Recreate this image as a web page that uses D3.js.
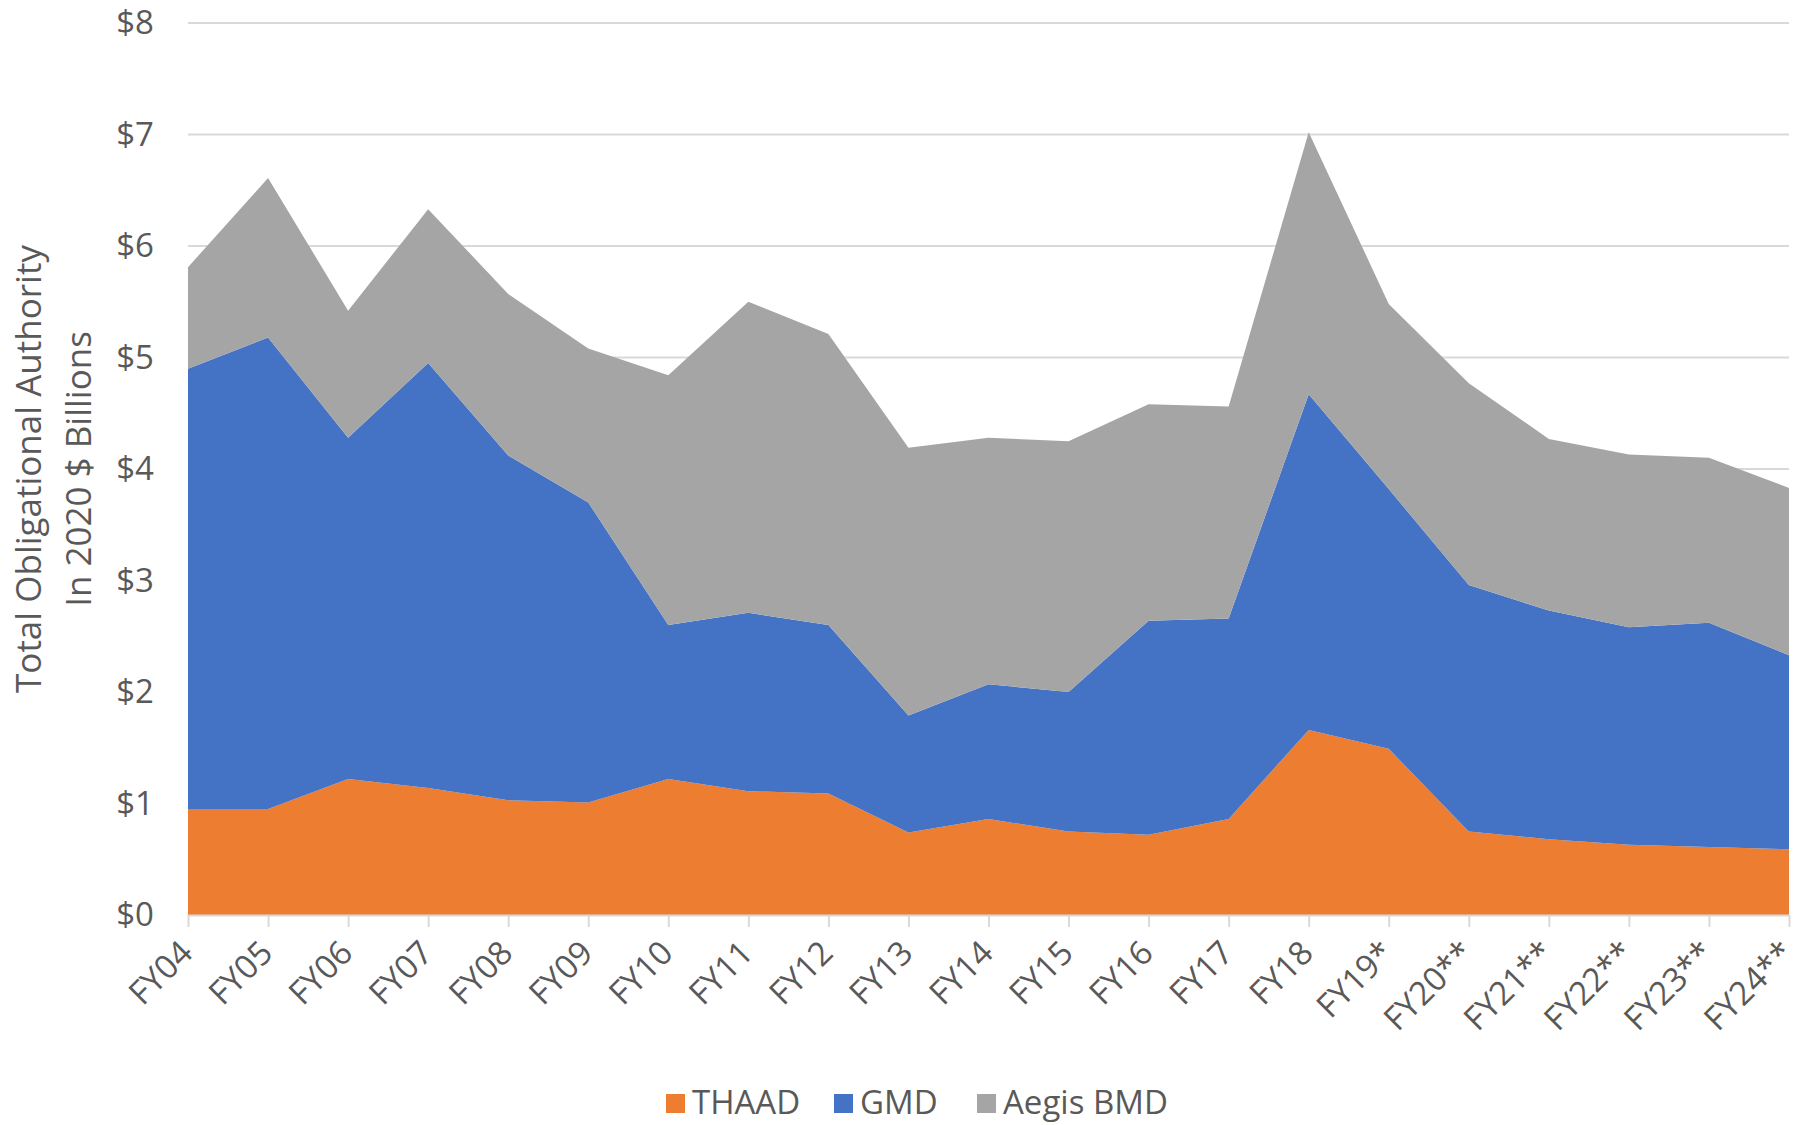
<!DOCTYPE html>
<html>
<head>
<meta charset="utf-8">
<script src="https://cdn.jsdelivr.net/npm/d3@7"></script>
<style>
  body { margin: 0; background: #fff; }
  svg text { font-family: "Open Sans", "Noto Sans", sans-serif; fill: #595959; }
</style>
</head>
<body>
<div id="chart"></div>
<script>
// fiscal years on the x axis
const years = ['FY04', 'FY05', 'FY06', 'FY07', 'FY08', 'FY09', 'FY10', 'FY11', 'FY12', 'FY13',
  'FY14', 'FY15', 'FY16', 'FY17', 'FY18', 'FY19*', 'FY20**', 'FY21**', 'FY22**', 'FY23**', 'FY24**'];

// values in 2020 $ billions
const thaad = [0.95, 0.95, 1.22, 1.14, 1.03, 1.01, 1.22, 1.11, 1.09, 0.74, 0.86,
  0.75, 0.72, 0.86, 1.66, 1.49, 0.75, 0.68, 0.63, 0.61, 0.59];
const gmd = [3.95, 4.23, 3.06, 3.81, 3.09, 2.69, 1.38, 1.60, 1.51, 1.05, 1.21,
  1.25, 1.92, 1.80, 3.01, 2.33, 2.21, 2.05, 1.95, 2.01, 1.74];
const aegis = [0.91, 1.43, 1.14, 1.38, 1.45, 1.38, 2.24, 2.79, 2.61, 2.40, 2.21,
  2.25, 1.94, 1.90, 2.35, 1.66, 1.81, 1.54, 1.55, 1.48, 1.50];

const seriesNames = ['THAAD', 'GMD', 'Aegis BMD'];
const seriesColors = ['#ed7d31', '#4472c4', '#a5a5a5'];
const yTicks = [0, 1, 2, 3, 4, 5, 6, 7, 8];

const width = 1806;
const height = 1125;
const margin = { top: 23, right: 17, bottom: 210, left: 188 };
const fontSize = 33;

const svg = d3.select('#chart')
  .append('svg')
  .attr('width', width)
  .attr('height', height);

// build rows for the stack
const rows = years.map((y, i) => ({ year: y, 'THAAD': thaad[i], 'GMD': gmd[i], 'Aegis BMD': aegis[i] }));
const stacked = d3.stack().keys(seriesNames)(rows);

const x = d3.scalePoint()
  .domain(years)
  .range([margin.left, width - margin.right]);

const y = d3.scaleLinear()
  .domain([0, 8])
  .range([height - margin.bottom, margin.top]);

// gridlines
svg.append('g')
  .selectAll('line')
  .data(yTicks.filter(d => d > 0))
  .join('line')
    .attr('x1', margin.left)
    .attr('x2', width - margin.right)
    .attr('y1', d => y(d))
    .attr('y2', d => y(d))
    .attr('stroke', '#d9d9d9')
    .attr('stroke-width', 2);

// areas
const area = d3.area()
  .x(d => x(d.data.year))
  .y0(d => y(d[0]))
  .y1(d => y(d[1]));

svg.append('g')
  .selectAll('path')
  .data(stacked)
  .join('path')
    .attr('d', area)
    .attr('fill', (d, i) => seriesColors[i]);

// x axis
const xAxis = svg.append('g')
  .attr('transform', `translate(0,${y(0)})`)
  .call(d3.axisBottom(x).tickSize(12).tickSizeOuter(0).tickPadding(0));
xAxis.select('.domain').attr('stroke', '#d9d9d9').attr('stroke-width', 2);
xAxis.selectAll('.tick line').attr('stroke', '#d9d9d9').attr('stroke-width', 2);
xAxis.selectAll('.tick text')
  .attr('font-size', fontSize)
  .attr('text-anchor', 'end')
  .attr('dy', null)
  .attr('y', null)
  .attr('transform', 'translate(6,40) rotate(-45)');

// y axis
const yAxis = svg.append('g')
  .attr('transform', `translate(${margin.left},0)`)
  .call(d3.axisLeft(y).tickValues(yTicks).tickFormat(d => '$' + d).tickSize(0).tickPadding(34));
yAxis.select('.domain').remove();
yAxis.selectAll('.tick text').attr('font-size', fontSize);

// y axis title
const yTitle = svg.append('text')
  .attr('transform', `translate(41,469) rotate(-90)`)
  .attr('text-anchor', 'middle')
  .attr('font-size', 35);
yTitle.append('tspan').attr('x', 0).attr('dy', 0).text('Total Obligational Authority');
yTitle.append('tspan').attr('x', 0).attr('dy', 50).text('In 2020 $ Billions');

// legend
const legendX = [666, 834, 977];
const legend = svg.append('g')
  .selectAll('g')
  .data(seriesNames)
  .join('g')
    .attr('transform', (d, i) => `translate(${legendX[i]},1113)`);
legend.append('rect')
  .attr('x', 0)
  .attr('y', -19)
  .attr('width', 19)
  .attr('height', 19)
  .attr('fill', (d, i) => seriesColors[i]);
legend.append('text')
  .attr('x', 26)
  .attr('y', 1)
  .attr('font-size', fontSize)
  .text(d => d);
</script>
</body>
</html>
